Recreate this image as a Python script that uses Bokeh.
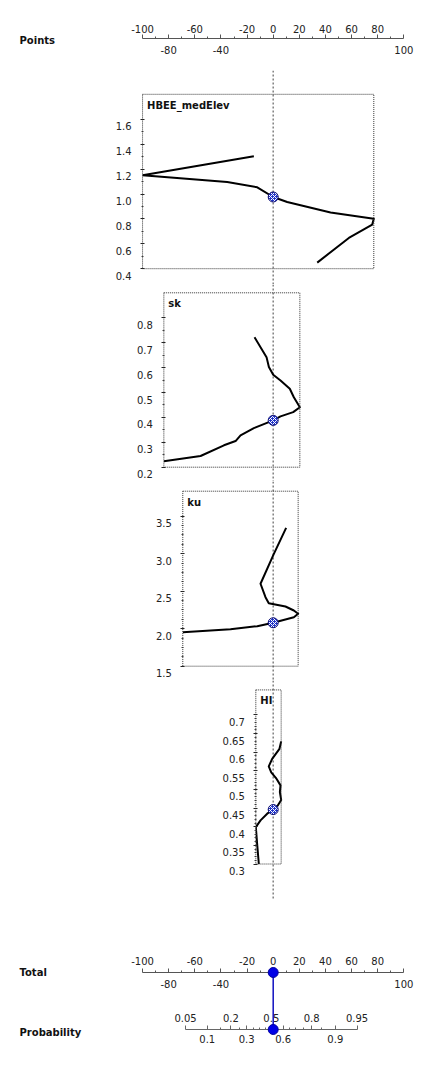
import math
import numpy as np
from bokeh.plotting import figure
from bokeh.layouts import column
from bokeh.models import Range1d, LinearAxis, FixedTicker, Span
from bokeh.core.properties import value
from bokeh.embed import file_html
from bokeh.resources import INLINE

# ---------------- data ----------------
points_ticks = [-100, -80, -60, -40, -20, 0, 20, 40, 60, 80, 100]
points_minor = [-90, -70, -50, -30, -10, 10, 30, 50, 70, 90]
points_below = [-80, -40, 100]          # labels written under the line

hbee_points = [-14.8, -100.0, -35.2, -12.2, 0.0, 10.7, 43.9, 77.0, 75.8, 57.9, 33.7]
hbee_values = [1.303, 1.150, 1.096, 1.054, 0.976, 0.936, 0.851, 0.802, 0.754, 0.647, 0.449]
hbee_ticks = [0.4, 0.6, 0.8, 1.0, 1.2, 1.4, 1.6]
hbee_labels = ["0.4", "0.6", "0.8", "1.0", "1.2", "1.4", "1.6"]
hbee_obs = 0.976

sk_points = [-14.3, -5.1, -3.3, 0.0, 5.6, 12.7, 15.8, 20.4, 15.3, 5.6, 0.0,
             -14.8, -25.0, -28.8, -37.7, -55.6, -83.7]
sk_values = [0.722, 0.642, 0.602, 0.571, 0.548, 0.515, 0.481, 0.441, 0.421, 0.404, 0.388,
             0.357, 0.328, 0.305, 0.288, 0.245, 0.224]
sk_ticks = [0.2, 0.3, 0.4, 0.5, 0.6, 0.7, 0.8]
sk_labels = ["0.2", "0.3", "0.4", "0.5", "0.6", "0.7", "0.8"]
sk_obs = 0.388

ku_points = [9.9, 0.5, -9.7, -5.9, -3.4, 9.4, 15.8, 19.1, 15.8, 0.0, -12.2, -32.7, -69.2]
ku_values = [3.345, 2.998, 2.599, 2.420, 2.340, 2.296, 2.243, 2.199, 2.153, 2.079, 2.033, 1.993, 1.953]
ku_ticks = [1.5, 2.0, 2.5, 3.0, 3.5]
ku_labels = ["1.5", "2.0", "2.5", "3.0", "3.5"]
ku_obs = 2.079

hi_points = [6.1, 4.8, -0.8, -3.4, -1.5, 2.5, 5.6, 5.1, 6.1, 3.5, 0.0, -4.6, -9.7, -13.3, -12.2, -11.0]
hi_values = [0.629, 0.609, 0.582, 0.562, 0.546, 0.529, 0.511, 0.493, 0.472, 0.457, 0.446,
             0.435, 0.417, 0.399, 0.350, 0.300]
hi_ticks = [0.3, 0.35, 0.4, 0.45, 0.5, 0.55, 0.6, 0.65, 0.7]
hi_labels = ["0.3", "0.35", "0.4", "0.45", "0.5", "0.55", "0.6", "0.65", "0.7"]
hi_obs = 0.446

obs_points = [0.0, 0.0, 0.0, 0.0]       # points earned by the observed values

prob_above = [0.05, 0.2, 0.5, 0.8, 0.95]
prob_below = [0.1, 0.3, 0.6, 0.9]
prob_minor = [0.15, 0.25, 0.35, 0.4, 0.45, 0.55, 0.65, 0.7, 0.75, 0.85]
prob_intercept = -1.45   # total points where probability = 0.5
prob_slope = 22.3        # total points per logit unit

# ---------------- layout / style ----------------
FONT = "DejaVu Sans"
W = 435
PX_PER_POINT = 1.3065
ZERO_X = 272.7
X_START = -ZERO_X / PX_PER_POINT
X_END = (W - ZERO_X) / PX_PER_POINT
BOX_PAD = 25
TXT = "#222222"
COMMON = dict(output_backend="svg", toolbar_location=None, outline_line_color=None,
              border_fill_color="white", background_fill_color="white",
              x_axis_location=None, y_axis_location=None, title=None, frame_align=False)


def prob_to_total(q):
    return prob_intercept + prob_slope * math.log(q / (1 - q))


def points_axis(p, side, standoff):
    ax = LinearAxis(ticker=FixedTicker(ticks=points_ticks, minor_ticks=points_minor),
                    major_label_overrides={v: ("" if v in points_below else str(v)) for v in points_ticks},
                    bounds=(points_ticks[0], points_ticks[-1]),
                    axis_line_color="#555555", major_tick_line_color="#555555",
                    minor_tick_line_color="#555555",
                    major_tick_out=4, major_tick_in=0, minor_tick_out=2, minor_tick_in=0,
                    major_label_standoff=standoff, major_label_text_font=FONT,
                    major_label_text_font_size="10px", major_label_text_color=TXT)
    p.add_layout(ax, side)


def side_label(p, text, y, dy=0):
    p.text(x=[X_START], y=[y], text=[text], x_offset=19, y_offset=dy,
           text_baseline="middle", text_align="left", text_font=value(FONT),
           text_font_size="10px", text_font_style="bold", text_color="#111111",
           level="overlay")


# ---- Points header ----
f0 = figure(width=W, height=70, x_range=Range1d(X_START, X_END), y_range=Range1d(0, 1),
            min_border_left=0, min_border_right=0, min_border_top=38, min_border_bottom=31,
            **COMMON)
points_axis(f0, "above", 2)
below_ax = LinearAxis(ticker=FixedTicker(ticks=points_below, minor_ticks=[]),
                      major_label_overrides={v: str(v) for v in points_below},
                      axis_line_color=None, major_tick_line_color=None,
                      major_tick_out=0, major_tick_in=0, major_label_standoff=6,
                      major_label_text_font=FONT, major_label_text_font_size="10px",
                      major_label_text_color=TXT)
f0.add_layout(below_ax, "below")
side_label(f0, "Points", 0.5, 1)


# ---- variable panels ----
def panel(name, pts, vals, ticks, labels, n_minor, obs, obs_pt, slot_top, slot_bot, ppu, base_y):
    h = slot_bot - slot_top
    y0 = ticks[0]
    y_start = y0 - (slot_bot - base_y) / ppu
    y_end = y0 + (base_y - slot_top) / ppu
    xmin, xmax = min(pts), max(pts)
    left_px = int(math.floor(ZERO_X + PX_PER_POINT * xmin))
    x_start = (left_px - ZERO_X) / PX_PER_POINT
    p = figure(width=W, height=h, x_range=Range1d(x_start, X_END), y_range=Range1d(y_start, y_end),
               min_border_left=left_px, min_border_right=0, min_border_top=0, min_border_bottom=0,
               **COMMON)
    minors = []
    for a, b in zip(ticks[:-1], ticks[1:]):
        minors += [float(v) for v in np.linspace(a, b, n_minor + 1)[1:-1]]
    ax = LinearAxis(ticker=FixedTicker(ticks=ticks, minor_ticks=minors),
                    axis_line_color=None, major_label_text_color=None,
                    major_tick_line_color="#222222", minor_tick_line_color="#444444",
                    major_tick_out=2, major_tick_in=2, minor_tick_out=1, minor_tick_in=1)
    p.add_layout(ax, "left")
    p.add_layout(Span(location=0, dimension="height", line_color="#808080",
                      line_dash="2 2", line_width=1.5, level="underlay"))
    top_val = ticks[-1] + BOX_PAD / ppu
    p.quad(left=[xmin], right=[xmax], bottom=[y0], top=[top_val], fill_color=None,
           line_color="#333333", line_dash="1 1", line_width=1, level="overlay")
    p.line(pts, vals, line_color="black", line_width=2, line_join="round")
    p.scatter([obs_pt], [obs], size=10, fill_color="#1f33c8", line_color="#101070",
              hatch_pattern="x", hatch_color="white", hatch_scale=4, hatch_weight=1)
    p.text(x=[xmin] * len(ticks), y=ticks, text=labels, x_offset=-11, y_offset=7,
           text_align="right", text_baseline="middle", text_font=value(FONT),
           text_font_size="10px", text_color=TXT, level="overlay")
    p.text(x=[xmin], y=[top_val], text=[name], x_offset=4.5, y_offset=11,
           text_baseline="middle", text_font=value(FONT), text_font_size="10px",
           text_font_style="bold", text_color="#111111", level="overlay")
    return p


f1 = panel("HBEE_medElev", hbee_points, hbee_values, hbee_ticks, hbee_labels, 2, hbee_obs,
           obs_points[0], 70, 284, 124.5, 268.2)
f2 = panel("sk", sk_points, sk_values, sk_ticks, sk_labels, 2, sk_obs,
           obs_points[1], 284, 481, 249.0, 466.7)
f3 = panel("ku", ku_points, ku_values, ku_ticks, ku_labels, 4, ku_obs,
           obs_points[2], 481, 680, 75.0, 665.7)
f4 = panel("HI", hi_points, hi_values, hi_ticks, hi_labels, 5, hi_obs,
           obs_points[3], 680, 900, 372.7, 863.5)

# ---- Total / Probability ----
TOTAL_Y, PROB_Y = 1, 0
f5 = figure(width=W, height=158, x_range=Range1d(X_START, X_END), y_range=Range1d(PROB_Y, TOTAL_Y),
            min_border_left=0, min_border_right=0, min_border_top=72, min_border_bottom=29,
            **COMMON)
points_axis(f5, "above", 4)
f5.text(x=points_below, y=[TOTAL_Y] * len(points_below), text=[str(v) for v in points_below],
        y_offset=11.5, text_align="center", text_baseline="middle", text_font=value(FONT),
        text_font_size="10px", text_color=TXT)

prob_major = sorted(prob_above + prob_below)
prob_ax = LinearAxis(
    ticker=FixedTicker(ticks=[prob_to_total(q) for q in prob_major],
                       minor_ticks=[prob_to_total(q) for q in prob_minor]),
    major_label_overrides={prob_to_total(q): (str(q) if q in prob_below else "") for q in prob_major},
    bounds=(prob_to_total(prob_major[0]), prob_to_total(prob_major[-1])),
    axis_line_color="#666666", major_tick_line_color="#666666", minor_tick_line_color="#666666",
    major_tick_out=0, major_tick_in=4, minor_tick_out=0, minor_tick_in=2,
    major_label_standoff=5, major_label_text_font=FONT, major_label_text_font_size="10px",
    major_label_text_color=TXT)
f5.add_layout(prob_ax, "below")
f5.text(x=[prob_to_total(q) for q in prob_above], y=[PROB_Y] * len(prob_above),
        text=[str(q) for q in prob_above], y_offset=-11.5, text_align="center",
        text_baseline="middle", text_font=value(FONT), text_font_size="10px",
        text_color=TXT)

total = sum(obs_points)
f5.segment(x0=[total], y0=[TOTAL_Y], x1=[total], y1=[PROB_Y], line_color="#1010c0",
           line_width=1.5, level="overlay")
f5.scatter(x=[total, total], y=[TOTAL_Y, PROB_Y], size=10, fill_color="#0000e6",
           line_color="#0000a0", level="overlay")
side_label(f5, "Total", TOTAL_Y)
side_label(f5, "Probability", PROB_Y, 2.5)

figs = [f0, f1, f2, f3, f4, f5]
for f in figs:
    f.grid.visible = False

layout = column(*figs, spacing=0)
open("out.html", "w").write(file_html(layout, INLINE))
